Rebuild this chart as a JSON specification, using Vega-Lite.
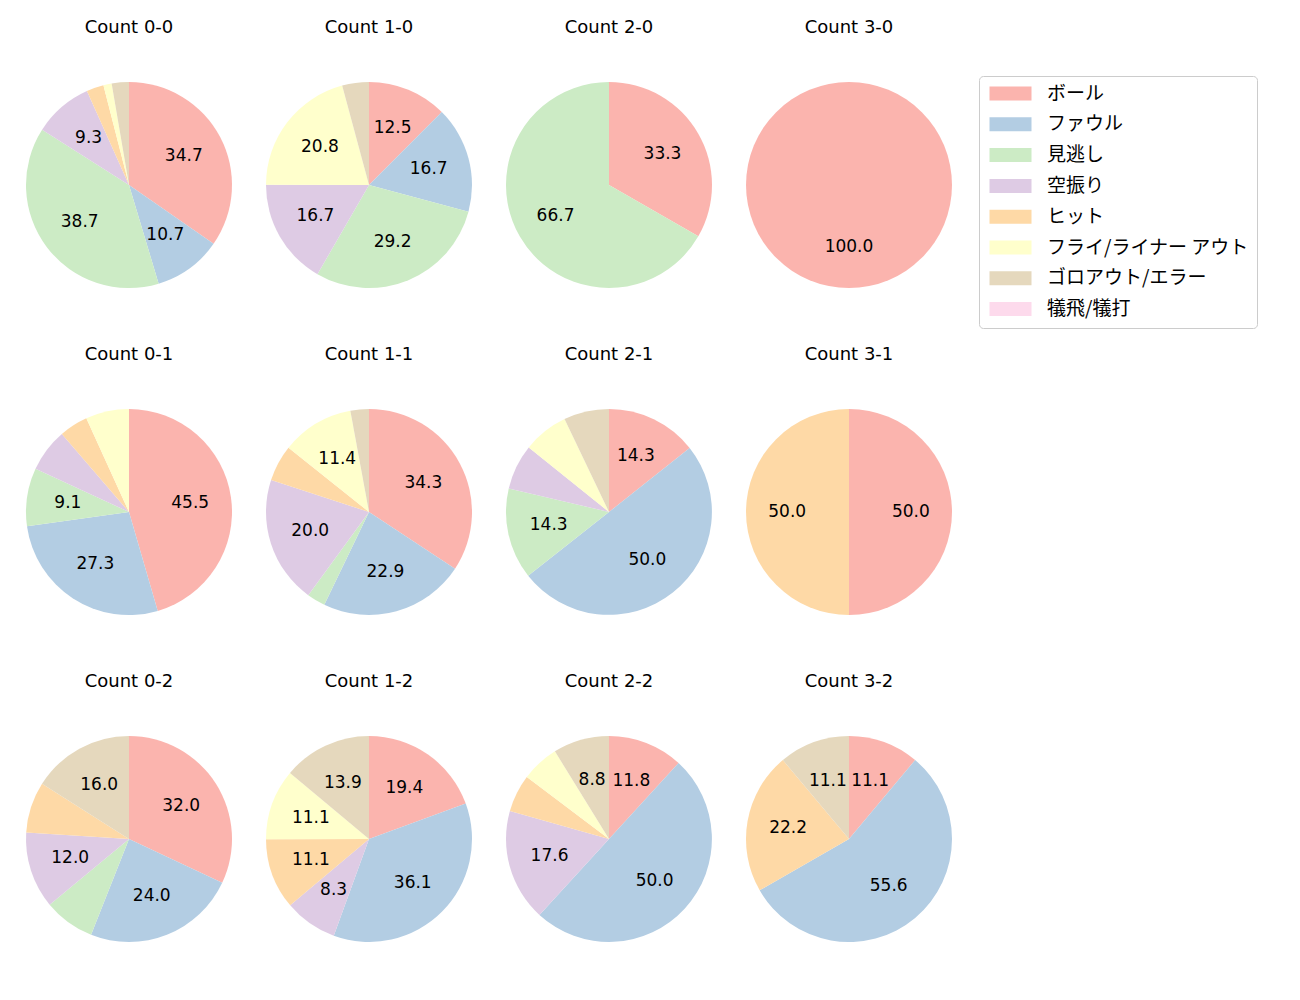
{
  "$schema": "https://vega.github.io/schema/vega-lite/v6.json",
  "background": "white",
  "padding": {"left": 26, "top": 19, "right": 0, "bottom": 0},
  "data": {"values": [
    {"c":"Count 0-0","cat":"ボール","i":0,"pct":34.7},
    {"c":"Count 0-0","cat":"ファウル","i":1,"pct":10.7},
    {"c":"Count 0-0","cat":"見逃し","i":2,"pct":38.7},
    {"c":"Count 0-0","cat":"空振り","i":3,"pct":9.3},
    {"c":"Count 0-0","cat":"ヒット","i":4,"pct":2.7},
    {"c":"Count 0-0","cat":"フライ/ライナー アウト","i":5,"pct":1.3},
    {"c":"Count 0-0","cat":"ゴロアウト/エラー","i":6,"pct":2.7},
    {"c":"Count 1-0","cat":"ボール","i":0,"pct":12.5},
    {"c":"Count 1-0","cat":"ファウル","i":1,"pct":16.7},
    {"c":"Count 1-0","cat":"見逃し","i":2,"pct":29.2},
    {"c":"Count 1-0","cat":"空振り","i":3,"pct":16.7},
    {"c":"Count 1-0","cat":"フライ/ライナー アウト","i":5,"pct":20.8},
    {"c":"Count 1-0","cat":"ゴロアウト/エラー","i":6,"pct":4.2},
    {"c":"Count 2-0","cat":"ボール","i":0,"pct":33.3},
    {"c":"Count 2-0","cat":"見逃し","i":2,"pct":66.7},
    {"c":"Count 3-0","cat":"ボール","i":0,"pct":100.0},
    {"c":"Count 0-1","cat":"ボール","i":0,"pct":45.5},
    {"c":"Count 0-1","cat":"ファウル","i":1,"pct":27.3},
    {"c":"Count 0-1","cat":"見逃し","i":2,"pct":9.1},
    {"c":"Count 0-1","cat":"空振り","i":3,"pct":6.8},
    {"c":"Count 0-1","cat":"ヒット","i":4,"pct":4.5},
    {"c":"Count 0-1","cat":"フライ/ライナー アウト","i":5,"pct":6.8},
    {"c":"Count 1-1","cat":"ボール","i":0,"pct":34.3},
    {"c":"Count 1-1","cat":"ファウル","i":1,"pct":22.9},
    {"c":"Count 1-1","cat":"見逃し","i":2,"pct":2.9},
    {"c":"Count 1-1","cat":"空振り","i":3,"pct":20.0},
    {"c":"Count 1-1","cat":"ヒット","i":4,"pct":5.7},
    {"c":"Count 1-1","cat":"フライ/ライナー アウト","i":5,"pct":11.4},
    {"c":"Count 1-1","cat":"ゴロアウト/エラー","i":6,"pct":2.9},
    {"c":"Count 2-1","cat":"ボール","i":0,"pct":14.3},
    {"c":"Count 2-1","cat":"ファウル","i":1,"pct":50.0},
    {"c":"Count 2-1","cat":"見逃し","i":2,"pct":14.3},
    {"c":"Count 2-1","cat":"空振り","i":3,"pct":7.1},
    {"c":"Count 2-1","cat":"フライ/ライナー アウト","i":5,"pct":7.1},
    {"c":"Count 2-1","cat":"ゴロアウト/エラー","i":6,"pct":7.1},
    {"c":"Count 3-1","cat":"ボール","i":0,"pct":50.0},
    {"c":"Count 3-1","cat":"ヒット","i":4,"pct":50.0},
    {"c":"Count 0-2","cat":"ボール","i":0,"pct":32.0},
    {"c":"Count 0-2","cat":"ファウル","i":1,"pct":24.0},
    {"c":"Count 0-2","cat":"見逃し","i":2,"pct":8.0},
    {"c":"Count 0-2","cat":"空振り","i":3,"pct":12.0},
    {"c":"Count 0-2","cat":"ヒット","i":4,"pct":8.0},
    {"c":"Count 0-2","cat":"ゴロアウト/エラー","i":6,"pct":16.0},
    {"c":"Count 1-2","cat":"ボール","i":0,"pct":19.4},
    {"c":"Count 1-2","cat":"ファウル","i":1,"pct":36.1},
    {"c":"Count 1-2","cat":"空振り","i":3,"pct":8.3},
    {"c":"Count 1-2","cat":"ヒット","i":4,"pct":11.1},
    {"c":"Count 1-2","cat":"フライ/ライナー アウト","i":5,"pct":11.1},
    {"c":"Count 1-2","cat":"ゴロアウト/エラー","i":6,"pct":13.9},
    {"c":"Count 2-2","cat":"ボール","i":0,"pct":11.8},
    {"c":"Count 2-2","cat":"ファウル","i":1,"pct":50.0},
    {"c":"Count 2-2","cat":"空振り","i":3,"pct":17.6},
    {"c":"Count 2-2","cat":"ヒット","i":4,"pct":5.9},
    {"c":"Count 2-2","cat":"フライ/ライナー アウト","i":5,"pct":5.9},
    {"c":"Count 2-2","cat":"ゴロアウト/エラー","i":6,"pct":8.8},
    {"c":"Count 3-2","cat":"ボール","i":0,"pct":11.1},
    {"c":"Count 3-2","cat":"ファウル","i":1,"pct":55.6},
    {"c":"Count 3-2","cat":"ヒット","i":4,"pct":22.2},
    {"c":"Count 3-2","cat":"ゴロアウト/エラー","i":6,"pct":11.1}
  ]},
  "facet": {
    "field": "c", "type": "nominal",
    "sort": ["Count 0-0","Count 1-0","Count 2-0","Count 3-0","Count 0-1","Count 1-1","Count 2-1","Count 3-1","Count 0-2","Count 1-2","Count 2-2","Count 3-2"],
    "header": {"title": null, "labelFontSize": 18, "labelFont": "DejaVu Sans", "labelColor": "black", "labelPadding": 45}
  },
  "columns": 4,
  "spacing": {"column": 34, "row": 58},
  "resolve": {"scale": {"theta": "independent"}},
  "spec": {
    "width": 206,
    "height": 206,
    "encoding": {
      "theta": {"field": "pct", "type": "quantitative", "stack": true},
      "order": {"field": "i", "type": "quantitative"}
    },
    "layer": [
      {
        "mark": {"type": "arc", "outerRadius": 103},
        "encoding": {
          "color": {
            "field": "cat", "type": "nominal",
            "scale": {
              "domain": ["ボール","ファウル","見逃し","空振り","ヒット","フライ/ライナー アウト","ゴロアウト/エラー","犠飛/犠打"],
              "range": ["#fbb4ae","#b3cde3","#ccebc5","#decbe4","#fed9a6","#ffffcc","#e5d8bd","#fddaec"]
            },
            "legend": {"title": null}
          }
        }
      },
      {
        "mark": {"type": "text", "radius": 61.8, "fontSize": 17, "font": "DejaVu Sans", "align": "center", "baseline": "middle"},
        "encoding": {
          "detail": {"field": "cat", "type": "nominal"},
          "color": {"value": "black"},
          "text": {"condition": {"test": "datum.pct > 8", "field": "pct", "type": "quantitative", "format": ".1f"}, "value": ""}
        }
      }
    ]
  },
  "config": {
    "view": {"stroke": null},
    "legend": {
      "orient": "none",
      "legendX": 953,
      "legendY": -6,
      "labelFont": "Noto Sans CJK JP",
      "labelFontSize": 19,
      "labelColor": "black",
      "labelOffset": 27,
      "symbolType": "M-3,-1H3V1H-3Z",
      "symbolSize": 196,
      "symbolOffset": 14,
      "symbolStrokeWidth": 0,
      "symbolOpacity": 1,
      "rowPadding": 10.8,
      "padding": 8,
      "strokeColor": "#cccccc",
      "cornerRadius": 4,
      "fillColor": "white",
      "labelLimit": 400
    }
  }
}
